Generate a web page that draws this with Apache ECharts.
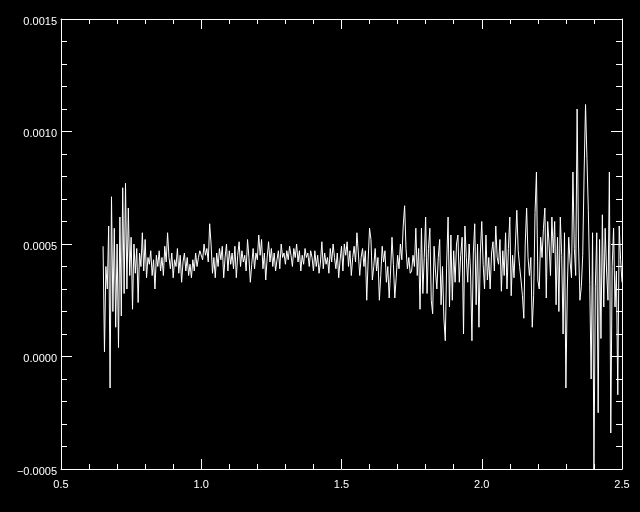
<!DOCTYPE html>
<html>
<head>
<meta charset="utf-8">
<script src="https://cdn.jsdelivr.net/npm/echarts@6/dist/echarts.min.js"></script>
<style>
html,body{margin:0;padding:0;background:#000;}
#chart{width:640px;height:512px;}
</style>
</head>
<body>
<div id="chart"></div>
<script>
// Sampling grid of the signal (x values)
const xStart = 0.65;
const xStep = 0.005;
// Signal values, in units of 1e-5
const segA = [49, 2, 40, 30, 58, -14, 71, 20, 57, 13, 50, 4, 62, 18, 75, 28, 77, 30, 66, 36, 53, 21, 50];
const segB = [37,48,24,46,40,55,38,52,35,44, 41,47,36,43,30,45,40,47,38,44, 36,49,42,55,44,39,46,35,43,40, 48,37,45,33,42,46,38,44,36,41, 35,43,38,46,40,44,47];
const segC = [47,43,50,45,48,42,59,50,37,44, 35,46,40,48,43,49,35,44,50,38, 47,41,46,39,49,35,45,51,40,47, 42,45,38,52,44,33,41,48,39,46, 43,54,45,52,39,46,34,44,51,42, 48,40,46,38,43,47,39,50,44,46, 41,47,43,49,45,40,48,44,50,42, 47,38,45,41,48,44,46,40,47];
const segD = [44,38,47,40,45,37,42,51,39,46, 41,44,37,48,42,50,44,39,46,35, 43,49,38,50,45,51,40,47,36,44, 49,42,55,46,36,44,48,40,47,25, 43,57,52,34,40,48,38,44,25,36, 49,42,47,33,40,26,38,53,41,26, 35,45,39,50,43,58,67,48,39,44, 37];
const segE = [38,45,40,57,36,48,21,57,28,44, 62,28,48,57,25,19,49,38,30,44, 52,23,40,17,7,42,62,22,54,25, 47,33,50,54,33,45,53,10,58,44, 33,50,38,7,46,59,23,50,13,46, 60,41,30,54,34,44,30,46,51,38, 58,44,41,52,29,47,36,55,30,48, 62,27,45,35,50];
const segF = [65,47,40,34,27,17,50,66,44,36, 44,13,27,64,82,34,30,53,44,57, 66,26,60,50,36,62,46,60,23,53, 20,62,45,10,55,-14];
const segG = [30,53,42,35,82,48,36,110,50,25, 31,45,82,112,88,65,32,-10,55,-50, 31,55,-25,52,8,63,22,57,38,25, 82,-34,40,57,22,38,-17,58,43,33];
const signalE5 = [].concat(segA, segB, segC, segD, segE, segF, segG);

const xTicks = [0.5, 1.0, 1.5, 2.0, 2.5];
const yTicks = [-0.0005, 0.0000, 0.0005, 0.0010, 0.0015];

const data = signalE5.map((v, i) => [xStart + i * xStep, v * 1e-5]);

const white = '#ffffff';
const font = 'Liberation Sans, Arial, sans-serif';

function xAxisDef(pos, showLabel) {
  return {
    type: 'value', position: pos, gridIndex: 0,
    min: xTicks[0], max: xTicks[xTicks.length - 1], interval: 0.5,
    axisLine: {show: true, onZero: false, lineStyle: {color: white, width: 1}},
    axisTick: {show: true, inside: true, length: 10, lineStyle: {color: white}},
    minorTick: {show: true, splitNumber: 5, length: 5, lineStyle: {color: white}},
    splitLine: {show: false},
    axisLabel: {show: showLabel, color: white, fontFamily: font, fontSize: 11, margin: 10,
      formatter: v => v.toFixed(1)}
  };
}
function yAxisDef(pos, showLabel) {
  return {
    type: 'value', position: pos, gridIndex: 0,
    min: yTicks[0], max: yTicks[yTicks.length - 1], interval: 0.0005,
    axisLine: {show: true, onZero: false, lineStyle: {color: white, width: 1}},
    axisTick: {show: true, inside: true, length: 11, lineStyle: {color: white}},
    minorTick: {show: true, splitNumber: 5, length: 6, lineStyle: {color: white}},
    splitLine: {show: false},
    axisLabel: {show: showLabel, color: white, fontFamily: font, fontSize: 11, margin: 4,
      verticalAlign: 'top', lineHeight: 5,
      formatter: v => v.toFixed(4).replace('-', '\u2212')}
  };
}

const chart = echarts.init(document.getElementById('chart'), null, {renderer: 'canvas'});
chart.setOption({
  backgroundColor: '#000000',
  animation: false,
  grid: {left: 61, right: 18, top: 19, bottom: 43, containLabel: false},
  xAxis: [xAxisDef('bottom', true), xAxisDef('top', false)],
  yAxis: [yAxisDef('left', true), yAxisDef('right', false)],
  series: [{
    type: 'line', xAxisIndex: 0, yAxisIndex: 0,
    data: data, showSymbol: false, symbol: 'none',
    lineStyle: {color: white, width: 1}, clip: true
  }]
});
</script>
</body>
</html>
